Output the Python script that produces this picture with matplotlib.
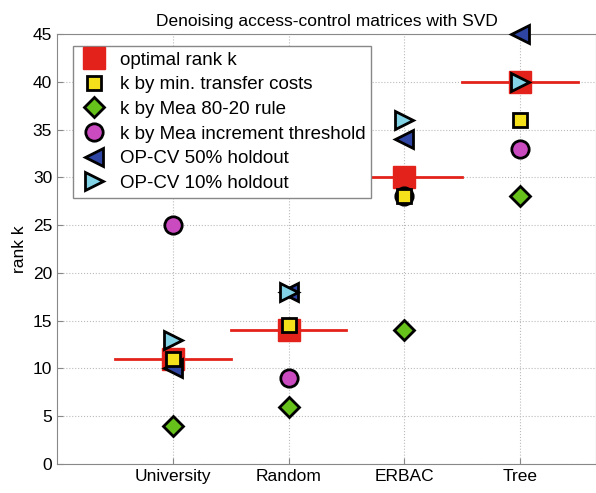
import numpy as np
import matplotlib.pyplot as plt

plt.rcParams['font.family'] = ['Liberation Sans', 'DejaVu Sans']

# ---------------- DATA ----------------
datasets = ["University", "Random", "ERBAC", "Tree"]
k_optimal = [11, 14, 30, 40]
k_transfer = [11, 14.5, 28, 36]
k_mea_8020 = [4, 6, 14, 28]
k_mea_incr = [25, 9, 28, 33]
k_opcv50 = [10, 18, 34, 45]
k_opcv10 = [13, 18, 36, 40]

# ---------------- PLOT ----------------
fig = plt.figure(figsize=(5.96, 4.93), dpi=100)
ax = fig.add_axes([57 / 596, 29 / 493, 1 - 57 / 596, 430 / 493])

x = np.arange(1, len(datasets) + 1)

# horizontal line marking the optimal rank
for xi, k in zip(x, k_optimal):
    ax.plot([xi - 0.5, xi + 0.5], [k, k], color="#e3231b", lw=2, zorder=2)

ax.plot(x, k_optimal, ls="none", marker="s", ms=16, color="#e3231b",
        mec="#e3231b", label="optimal rank k", zorder=3)

ec = "black"
mew = 2
ax.plot(x, k_mea_8020, ls="none", marker="D", ms=10, mfc="#66c21a", mec=ec, mew=mew,
        label="k by Mea 80-20 rule", zorder=4)
ax.plot(x, k_mea_incr, ls="none", marker="o", ms=12.5, mfc="#c94bbf", mec=ec, mew=mew,
        label="k by Mea increment threshold", zorder=4)
ax.plot(x, k_opcv50, ls="none", marker="<", ms=13, mfc="#2e45a3", mec=ec, mew=mew,
        label="OP-CV 50% holdout", zorder=5, clip_on=False)
ax.plot(x, k_opcv10, ls="none", marker=">", ms=13, mfc="#82d3e6", mec=ec, mew=mew,
        label="OP-CV 10% holdout", zorder=5)
ax.plot(x, k_transfer, ls="none", marker="s", ms=10.5, mfc="#f5e11b", mec=ec, mew=mew,
        label="k by min. transfer costs", zorder=6)

ax.set_xlim(0, 1 + (596 - 172) / 116)
ax.set_ylim(0, 45)
ax.set_xticks(x)
ax.set_xticklabels(datasets)
ax.set_yticks(np.arange(0, 46, 5))
ax.tick_params(direction="in", length=4, labelsize=12.5, colors="#888888", labelcolor="black")
ax.grid(True, ls=":", color="#bbbbbb", lw=0.8)
for s in ax.spines.values():
    s.set_color("#888888")
ax.set_ylabel("rank k", fontsize=12.5)
ax.set_title("Denoising access-control matrices with SVD", fontsize=12.5)

# legend in the original order
h, l = ax.get_legend_handles_labels()
order = ["optimal rank k", "k by min. transfer costs", "k by Mea 80-20 rule",
         "k by Mea increment threshold", "OP-CV 50% holdout", "OP-CV 10% holdout"]
hd = dict(zip(l, h))
leg = ax.legend([hd[o] for o in order], order, loc="upper left",
                bbox_to_anchor=(0.03, 0.972), fontsize=13.5, frameon=True,
                framealpha=1, fancybox=False, edgecolor="#888888", handlelength=1.6,
                handletextpad=0.6, labelspacing=0.4, borderpad=0.3,
                borderaxespad=0)
leg.get_frame().set_linewidth(1)
leg.set_zorder(10)

fig.savefig("out.png", dpi=100)
